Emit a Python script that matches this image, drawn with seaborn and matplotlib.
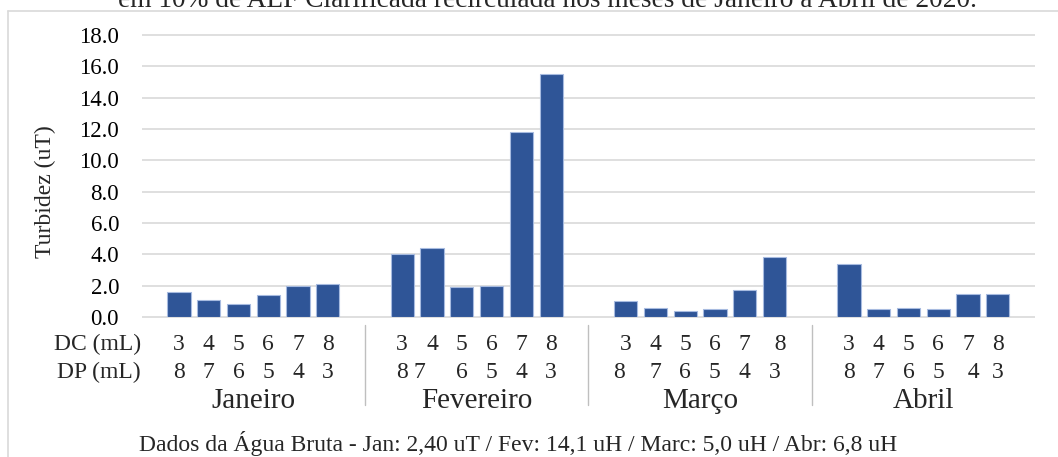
import pandas as pd
import matplotlib
matplotlib.use("Agg")
import matplotlib.pyplot as plt
from matplotlib.lines import Line2D
from matplotlib.transforms import blended_transform_factory
import seaborn as sns

# Turbidity per month (uT), one value per DC/DP pair
months = ["Janeiro", "Fevereiro", "Março", "Abril"]
turbidez_jan = [1.6, 1.1, 0.8, 1.4, 2.0, 2.1]
turbidez_fev = [4.0, 4.4, 1.9, 2.0, 11.8, 15.5]
turbidez_mar = [1.0, 0.6, 0.4, 0.5, 1.7, 3.8]
turbidez_abr = [3.4, 0.5, 0.6, 0.5, 1.5, 1.5]

# Category labels (DC = coagulant dose, DP = polymer dose, mL)
dc_jan = ["3", "4", "5", "6", "7", "8"]
dc_fev = ["3", "4", "5", "6", "7", "8"]
dc_mar = ["3", "4", "5", "6", "7", "  8"]
dc_abr = ["3", "4", "5", "6", "7", "8"]
dp_jan = ["8", "7", "6", "5", "4", "3"]
dp_fev = ["8", "7    ", "6", "5", "4", "3"]
dp_mar = ["8  ", "7", "6", "5", "4", "3"]
dp_abr = ["8", "7", "6", "5", "  4", "3"]

yticks = [0, 2, 4, 6, 8, 10, 12, 14, 16, 18]

title = "em 10% de ALF Clarificada recirculada nos meses de Janeiro a Abril de 2020."
note = "Dados da Água Bruta - Jan: 2,40 uT / Fev: 14,1 uH / Marc: 5,0 uH / Abr: 6,8 uH"

series = [turbidez_jan, turbidez_fev, turbidez_mar, turbidez_abr]
dc_rows = [dc_jan, dc_fev, dc_mar, dc_abr]
dp_rows = [dp_jan, dp_fev, dp_mar, dp_abr]

sns.set_theme(style="white")
plt.rcParams["font.family"] = ["Liberation Serif", "DejaVu Serif"]

W, H = 1058, 457
fig = plt.figure(figsize=(W / 100, H / 100), dpi=100)
ax = fig.add_axes([141.7 / W, 1 - 317 / H, (1035 - 141.7) / W, (317 - 35) / H])

group_step = 7.5  # six bars plus a gap between months
records = []
for g, (mes, vals) in enumerate(zip(months, series)):
    for i, v in enumerate(vals):
        records.append({"pos": g * group_step + i, "mes": mes, "turbidez": v})
df = pd.DataFrame(records)

bar_color = "#2F5597"
grid_color = "#D9D9D9"

sns.barplot(data=df, x="pos", y="turbidez", native_scale=True, width=0.78,
            color=bar_color, saturation=1, edgecolor="#A7BBE0", linewidth=0.8,
            errorbar=None, ax=ax, zorder=3)

n_last = (len(months) - 1) * group_step + 5
ax.set_xlim(-1.25, n_last + 1.25)
ax.set_ylim(0, 18)
ax.set_yticks(yticks)
ax.set_yticklabels([f"{t:.1f}" for t in yticks])
ax.set_xticks([])
ax.set_xlabel("")
ax.set_ylabel("")
ax.tick_params(axis="y", length=0, pad=16.3, labelsize=16.5, labelcolor="black")
for s in ax.spines.values():
    s.set_visible(False)
ax.hlines(yticks, 0, 1, transform=ax.get_yaxis_transform(), color=grid_color,
          lw=1.2, clip_on=False, zorder=1)

# Multi-level category axis drawn below the plot
trans = blended_transform_factory(ax.transData, fig.transFigure)
y_dc, y_dp, y_mes = 1 - 344 / H, 1 - 372 / H, 1 - 401 / H
row_fs = 17
for g, mes in enumerate(months):
    for i in range(6):
        x = g * group_step + i
        ax.text(x, y_dc, dc_rows[g][i], transform=trans, ha="center", va="center",
                fontsize=row_fs, clip_on=False)
        ax.text(x, y_dp, dp_rows[g][i], transform=trans, ha="center", va="center",
                fontsize=row_fs, clip_on=False)
    ax.text(g * group_step + 2.5, y_mes, mes, transform=trans, ha="center",
            va="center", fontsize=21, clip_on=False)
    if g > 0:
        xs = g * group_step - 1.25
        ax.add_line(Line2D([xs, xs], [1 - 325 / H, 1 - 405 / H], transform=trans,
                           color="#BFBFBF", lw=1.0, clip_on=False))

fig.text(141 / W, y_dc, "DC (mL)", ha="right", va="center", fontsize=row_fs)
fig.text(141 / W, y_dp, "DP (mL)", ha="right", va="center", fontsize=row_fs)
fig.text(45 / W, 1 - 192 / H, "Turbidez (uT)", rotation=90, ha="center",
         va="center", fontsize=17)

fig.text(547 / W, 1 - 7 / H, title, ha="center", va="baseline", fontsize=19.7)
fig.text(517.6 / W, 1 - 444 / H, note, ha="center", va="center", fontsize=17)

# Chart frame (top and left edges)
fig.add_artist(Line2D([7.5 / W, 1], [1 - 10.5 / H] * 2, color=grid_color, lw=1.2))
fig.add_artist(Line2D([7.5 / W] * 2, [0, 1 - 10.5 / H], color=grid_color, lw=1.2))

fig.savefig("out.png", dpi=100)
